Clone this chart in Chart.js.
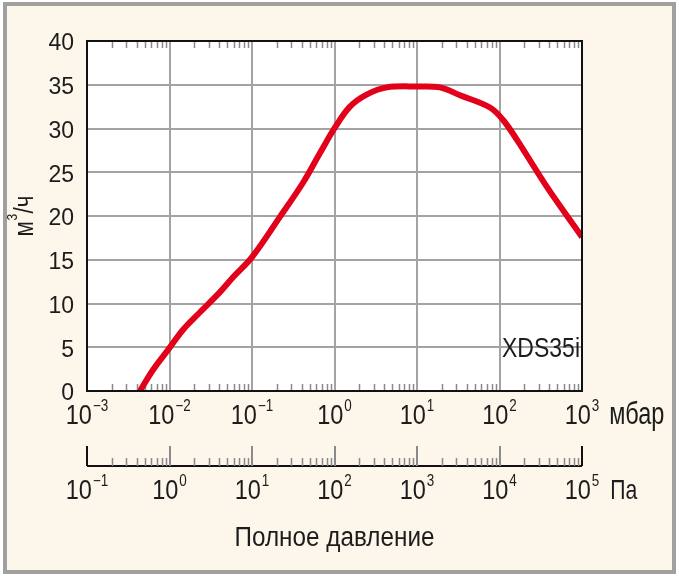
<!DOCTYPE html>
<html><head><meta charset="utf-8">
<script src="https://cdn.jsdelivr.net/npm/chart.js@4/dist/chart.umd.min.js"></script>
<style>html,body{margin:0;padding:0;background:#fff}canvas{display:block}</style>
</head><body>
<canvas id="c" width="679" height="576"></canvas>
<script>
// ---- data ----
const pressureMbar = [0.00438, 0.0063, 0.0096, 0.0146, 0.0234, 0.0409, 0.0589, 0.1, 0.218, 0.415, 0.667, 1.01, 1.54, 2.48, 4.32, 10, 19, 33.2, 76.7, 110, 163, 377, 1000];
const flowM3h     = [0,       2.4,    4.7,    7.0,    9.0,    11.3,   13.0,   15.3, 19.9, 23.8,  27.2,  30.1, 32.5, 33.9, 34.7, 34.8, 34.7, 33.8, 32.4, 31.0, 28.7, 23.3, 17.6];
const yTickValues = [0, 5, 10, 15, 20, 25, 30, 35, 40];
const mbarExponents = ['−3', '−2', '−1', '0', '1', '2', '3'];
const paExponents = ['−1', '0', '1', '2', '3', '4', '5'];
const seriesName = 'XDS35i';
const yTitleBase = 'м', yTitleSup = '3', yTitleRest = '/ч';
const mbarUnit = 'мбар', paUnit = 'Па', xTitle = 'Полное давление';

const FONT = '"Liberation Sans", Arial, sans-serif';
const f = s => s + 'px ' + FONT;
const TXT = '#1c1c1c';
const GRID = '#a3a3a3';
const MINOR = '#8a8a8a';

// draw text compressed horizontally (condensed look), returns right edge
function drawT(ctx, text, x, y, size, sx, align) {
  ctx.save();
  ctx.font = f(size);
  const w = ctx.measureText(text).width * sx;
  let left = align === 'center' ? x - w / 2 : align === 'right' ? x - w : x;
  ctx.translate(left, y); ctx.scale(sx, 1);
  ctx.textAlign = 'left'; ctx.textBaseline = 'alphabetic';
  ctx.fillText(text, 0, 0);
  ctx.restore();
  return left + w;
}
function widthFit(ctx, text, size, target) { ctx.font = f(size); return target / ctx.measureText(text).width; }

function drawPow(ctx, x, y, base, exp) {
  const SX = 0.84, BS = 28, ES = 16, RISE = 13;
  ctx.font = f(BS); const bw = ctx.measureText(base).width * SX;
  ctx.font = f(ES); const ew = ctx.measureText(exp).width * SX;
  const left = x - (bw + 1 + ew) / 2;
  drawT(ctx, base, left, y, BS, SX, 'left');
  return drawT(ctx, exp, left + bw + 1, y - RISE, ES, SX, 'left');
}

const decoration = {
  id: 'decoration',
  beforeDraw(chart) {
    const ctx = chart.ctx;
    ctx.save();
    ctx.fillStyle = '#ffffff'; ctx.fillRect(0, 0, 679, 576);
    ctx.fillStyle = '#fcf6eb'; ctx.fillRect(5, 4, 669, 568);
    ctx.strokeStyle = '#a0a0a0'; ctx.lineWidth = 4;
    ctx.strokeRect(5, 4, 669, 568);
    const a = chart.chartArea;
    ctx.fillStyle = '#ffffff'; ctx.fillRect(a.left, a.top, a.right - a.left, a.bottom - a.top);
    ctx.restore();
  },
  beforeDatasetsDraw(chart) {
    const ctx = chart.ctx, x = chart.scales.x, a = chart.chartArea;
    ctx.save();
    ctx.strokeStyle = MINOR; ctx.lineWidth = 1.5;
    for (let n = -3; n < 3; n++) {
      for (let k = 2; k <= 9; k++) {
        const px = Math.round(x.getPixelForValue(k * Math.pow(10, n))) + 0.5;
        ctx.beginPath();
        ctx.moveTo(px, a.top); ctx.lineTo(px, a.top + 7);
        ctx.moveTo(px, a.bottom); ctx.lineTo(px, a.bottom - 7);
        ctx.stroke();
      }
    }
    ctx.restore();
  },
  afterDatasetsDraw(chart) {
    const ctx = chart.ctx, a = chart.chartArea;
    ctx.save();
    ctx.strokeStyle = '#111'; ctx.lineWidth = 2;
    ctx.strokeRect(a.left, a.top, a.right - a.left, a.bottom - a.top);
    ctx.fillStyle = TXT;
    drawT(ctx, seriesName, a.right - 2, 357, 28, widthFit(ctx, seriesName, 28, 78), 'right');
    ctx.restore();
  },
  afterDraw(chart) {
    const ctx = chart.ctx, x = chart.scales.x, a = chart.chartArea;
    ctx.save();
    ctx.fillStyle = TXT;
    // mbar labels
    let end = 0;
    mbarExponents.forEach((e, i) => {
      end = drawPow(ctx, x.getPixelForValue(Math.pow(10, i - 3)), 424, '10', e);
    });
    drawT(ctx, mbarUnit, end + 10, 424, 31, widthFit(ctx, mbarUnit, 31, 55), 'left');
    // Pa axis
    const yA = 466;
    ctx.strokeStyle = '#111'; ctx.lineWidth = 2;
    ctx.beginPath(); ctx.moveTo(a.left, yA); ctx.lineTo(a.right, yA); ctx.stroke();
    for (let n = -1; n <= 5; n++) {
      const px = x.getPixelForValue(Math.pow(10, n) / 100);
      const isEnd = (n === -1 || n === 5);
      ctx.strokeStyle = isEnd ? '#111' : MINOR; ctx.lineWidth = 2;
      const xx = isEnd ? px : Math.round(px);
      ctx.beginPath(); ctx.moveTo(xx, yA); ctx.lineTo(xx, 446); ctx.stroke();
      if (n < 5) {
        ctx.strokeStyle = MINOR; ctx.lineWidth = 1.5;
        for (let k = 2; k <= 9; k++) {
          const mx = Math.round(x.getPixelForValue(k * Math.pow(10, n) / 100)) + 0.5;
          ctx.beginPath(); ctx.moveTo(mx, yA); ctx.lineTo(mx, 458); ctx.stroke();
        }
      }
    }
    paExponents.forEach((e, i) => {
      end = drawPow(ctx, x.getPixelForValue(Math.pow(10, i - 1) / 100), 499, '10', e);
    });
    drawT(ctx, paUnit, end + 11, 499, 28, widthFit(ctx, paUnit, 28, 27), 'left');
    // x title
    drawT(ctx, xTitle, (a.left + a.right) / 2, 546, 27, widthFit(ctx, xTitle, 27, 200), 'center');
    // y title (rotated)
    ctx.translate(33, 216); ctx.rotate(-Math.PI / 2);
    const SX = 0.8;
    ctx.font = f(28); const w1 = ctx.measureText(yTitleBase).width * SX, w3 = ctx.measureText(yTitleRest).width * SX;
    ctx.font = f(15); const w2 = ctx.measureText(yTitleSup).width * SX;
    let sx = -(w1 + w2 + w3 + 1) / 2;
    drawT(ctx, yTitleBase, sx, 0, 28, SX, 'left'); sx += w1 + 0.5;
    drawT(ctx, yTitleSup, sx, -16, 15, SX, 'left'); sx += w2 + 0.5;
    drawT(ctx, yTitleRest, sx, 0, 28, SX, 'left');
    ctx.restore();
  }
};

new Chart(document.getElementById('c'), {
  type: 'line',
  data: {
    datasets: [{
      label: seriesName,
      data: pressureMbar.map((p, i) => ({ x: p, y: flowM3h[i] })),
      borderColor: '#e2001a',
      borderWidth: 6,
      pointRadius: 0,
      fill: false,
      tension: 0.35,
      borderCapStyle: 'butt',
      borderJoinStyle: 'round'
    }]
  },
  options: {
    responsive: false,
    animation: false,
    devicePixelRatio: 1,
    layout: { padding: { left: 0, top: 41, right: 97, bottom: 0 } },
    plugins: { legend: { display: false }, tooltip: { enabled: false } },
    scales: {
      x: {
        type: 'logarithmic', min: 0.001, max: 1000, position: 'bottom',
        afterFit: s => { s.height = 185; },
        ticks: { display: false },
        border: { display: false },
        grid: {
          drawTicks: false, lineWidth: 2,
          color: c => {
            const v = c.tick ? c.tick.value : 0;
            const l = Math.log10(v);
            return Math.abs(l - Math.round(l)) < 1e-6 ? GRID : 'rgba(0,0,0,0)';
          }
        }
      },
      y: {
        type: 'linear', min: 0, max: 40,
        afterFit: s => { s.width = 87; },
        afterBuildTicks: s => { s.ticks = yTickValues.map(v => ({ value: v })); },
        ticks: { font: { family: FONT, size: 23 }, color: TXT, padding: 13, labelOffset: 3 },
        border: { display: false },
        grid: { drawTicks: false, lineWidth: 2, color: GRID }
      }
    }
  },
  plugins: [decoration]
});
</script>
</body></html>
